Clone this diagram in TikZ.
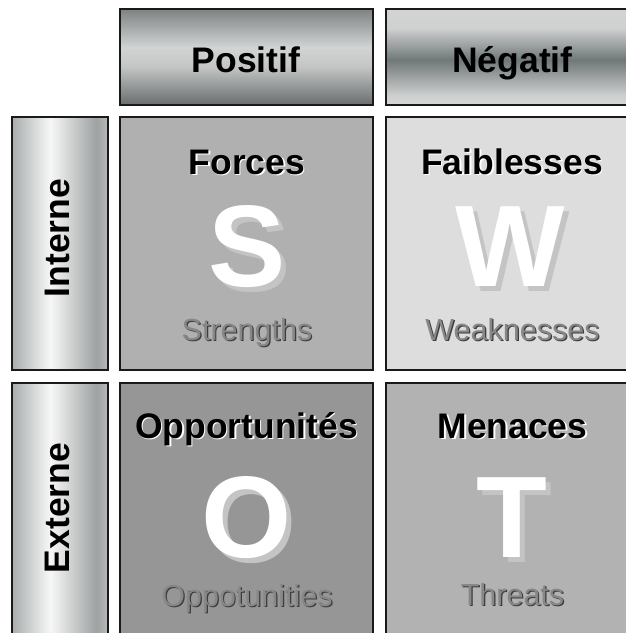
\documentclass[tikz,border=0pt]{standalone}
\usepackage{fontspec}
\setmainfont{Liberation Sans}
\definecolor{bordc}{HTML}{1A1A1A}
\definecolor{cS}{HTML}{B0B0B0}
\definecolor{cW}{HTML}{DDDDDD}
\definecolor{cO}{HTML}{969696}
\definecolor{cT}{HTML}{B2B2B2}
\definecolor{bigsh}{HTML}{C4C4C4}
\definecolor{subfg}{HTML}{878787}
\definecolor{subsh}{HTML}{3C3C3C}
\definecolor{pA}{RGB}{104,109,109}
\definecolor{pB}{RGB}{196,198,198}
\definecolor{pC}{RGB}{210,212,212}
\definecolor{pD}{RGB}{125,130,130}
\definecolor{nA}{RGB}{214,215,215}
\definecolor{nB}{RGB}{206,207,207}
\definecolor{nC}{RGB}{112,120,120}
\definecolor{nD}{RGB}{207,208,208}
\definecolor{nE}{RGB}{211,212,212}
\definecolor{sA}{RGB}{169,173,173}
\definecolor{sB}{RGB}{247,247,247}
\definecolor{sC}{RGB}{158,162,162}
\definecolor{sD}{RGB}{184,187,187}
\pgfdeclareverticalshading{posshade}{100bp}{color(0bp)=(pA); color(25bp)=(pA); color(45bp)=(pB); color(55bp)=(pC); color(75bp)=(pD); color(100bp)=(pD)}
\pgfdeclareverticalshading{negshade}{100bp}{color(0bp)=(nA); color(25bp)=(nA); color(30bp)=(nB); color(48.5bp)=(nC); color(65bp)=(nD); color(75bp)=(nE); color(100bp)=(nE)}
\pgfdeclarehorizontalshading{sideshade}{100bp}{color(0bp)=(sA); color(25bp)=(sA); color(45bp)=(sB); color(69bp)=(sC); color(75bp)=(sD); color(100bp)=(sD)}
\begin{document}
\begin{tikzpicture}[x=1pt,y=-1pt,
  cell/.style={draw=bordc, line width=1.3pt, anchor=north west, inner sep=0, outer sep=0},
  ttl/.style={font=\bfseries\fontsize{35.5}{35.5}\selectfont, anchor=base, inner sep=0},
  big/.style={font=\bfseries\fontsize{116}{116}\selectfont, anchor=base, inner sep=0},
  sub/.style={font=\fontsize{30.5}{30.5}\selectfont, anchor=base, inner sep=0}]
\useasboundingbox (0,0) rectangle (626,633);
\clip (0,0) rectangle (626,633);
% header boxes
\node[cell, shade, shading=posshade, minimum width=253pt, minimum height=96pt] (pos) at (120,9) {};
\node[cell, shade, shading=negshade, minimum width=253pt, minimum height=96pt] (neg) at (386,9) {};
\node[cell, shade, shading=sideshade, minimum width=96pt, minimum height=253pt] (int) at (12,117) {};
\node[cell, shade, shading=sideshade, minimum width=96pt, minimum height=253pt] (ext) at (12,383) {};
% quadrant boxes
\node[cell, fill=cS, minimum width=253pt, minimum height=253pt] (qS) at (120,117) {};
\node[cell, fill=cW, minimum width=253pt, minimum height=253pt] (qW) at (386,117) {};
\node[cell, fill=cO, minimum width=253pt, minimum height=253pt] (qO) at (120,383) {};
\node[cell, fill=cT, minimum width=253pt, minimum height=253pt] (qT) at (386,383) {};
% header texts
\node[ttl] (tpos) at (246,72) {Positif};
\node[ttl] (tneg) at (512.5,72) {Négatif};
\node[ttl, rotate=90] (tint) at (69,238) {Interne};
\node[ttl, rotate=90] (text) at (69,508) {Externe};
% S
\node[ttl, white] (fS0) at (248.5,175.5) {Forces};
\node[ttl] (fS) at (247,174) {Forces};
\node[big, bigsh] (bS0) at (252,291.5) {S};
\node[big, white] (bS) at (247,286) {S};
\node[sub, subsh] (sS0) at (248.2,341.2) {Strengths};
\node[sub, subfg] (sS) at (247,340) {Strengths};
% W
\node[ttl, white] (fW0) at (513.5,175.5) {Faiblesses};
\node[ttl] (fW) at (512,174) {Faiblesses};
\node[big, bigsh] (bW0) at (515,291.5) {W};
\node[big, white] (bW) at (510,286) {W};
\node[sub, subsh] (sW0) at (513.7,341.2) {Weaknesses};
\node[sub, subfg] (sW) at (512.5,340) {Weaknesses};
% O
\node[ttl, white] (fO0) at (248,439.5) {Opportunités};
\node[ttl] (fO) at (246.5,438) {Opportunités};
\node[big, bigsh] (bO0) at (252,562.5) {O};
\node[big, white] (bO) at (247,557) {O};
\node[sub, subsh] (sO0) at (248.2,607.2) {Oppotunities};
\node[sub, subfg] (sO) at (247,606) {Oppotunities};
% T
\node[ttl, white] (fT0) at (514,439.5) {Menaces};
\node[ttl] (fT) at (512.5,438) {Menaces};
\node[big, bigsh] (bT0) at (517,562.5) {T};
\node[big, white] (bT) at (512,557) {T};
\node[sub, subsh] (sT0) at (513.7,606.2) {Threats};
\node[sub, subfg] (sT) at (512.5,605) {Threats};
\end{tikzpicture}
\end{document}
